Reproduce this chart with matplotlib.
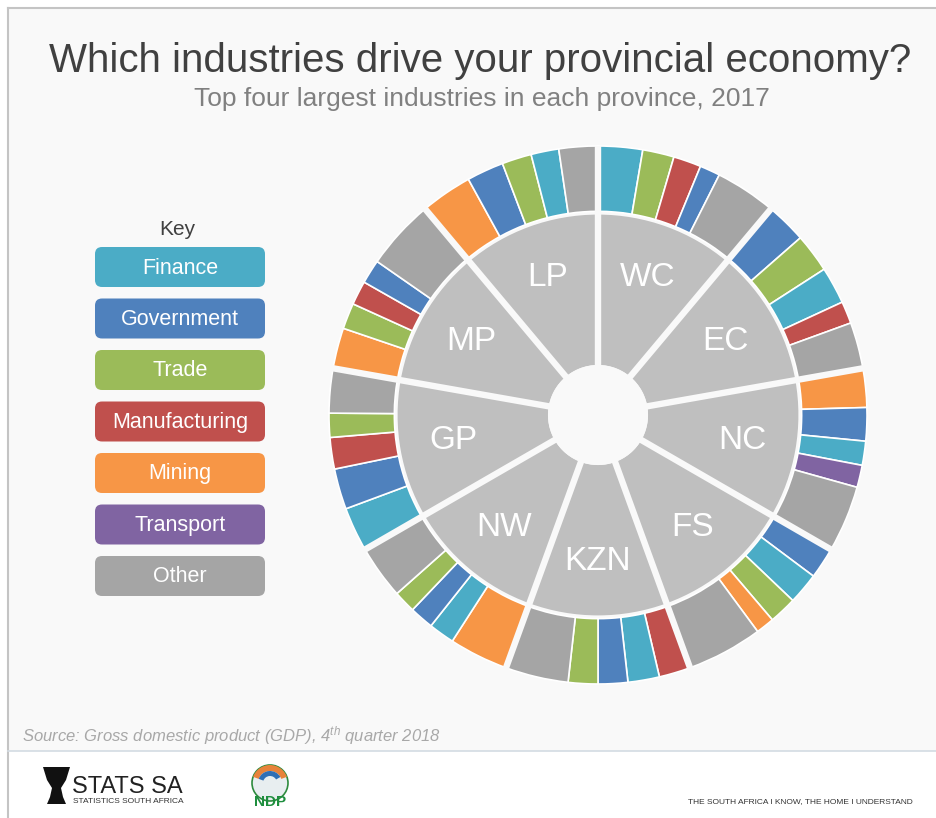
import numpy as np
import matplotlib
matplotlib.use("Agg")
import matplotlib.pyplot as plt
from matplotlib.patches import Rectangle, FancyBboxPatch, Polygon, Wedge, Circle

plt.rcParams["font.family"] = ["Liberation Sans", "DejaVu Sans"]
plt.rcParams["mathtext.fontset"] = "custom"
plt.rcParams["mathtext.it"] = "Liberation Sans:italic"
plt.rcParams["mathtext.rm"] = "Liberation Sans"

# ---- data (share of provincial GDP) ----
provinces = ["WC", "EC", "NC", "FS", "KZN", "NW", "GP", "MP", "LP"]

industries = ["Finance", "Government", "Trade", "Manufacturing", "Mining", "Transport", "Other"]
industry_colors = ["#4BACC6", "#4F81BD", "#9BBB59", "#C0504D", "#F79646", "#8064A2", "#A5A5A5"]

# clockwise order inside each province, "Other" last
wc_inds = ["Finance", "Trade", "Manufacturing", "Government", "Other"]
wc_vals = [24, 17, 15, 11, 33]
ec_inds = ["Government", "Trade", "Finance", "Manufacturing", "Other"]
ec_vals = [22, 21, 20, 12, 25]
nc_inds = ["Mining", "Government", "Finance", "Transport", "Other"]
nc_vals = [21, 18, 13, 12, 36]
fs_inds = ["Government", "Finance", "Trade", "Mining", "Other"]
fs_vals = [17, 17, 15, 10, 41]
kzn_inds = ["Manufacturing", "Finance", "Government", "Trade", "Other"]
kzn_vals = [17, 17, 16, 16, 34]
nw_inds = ["Mining", "Finance", "Government", "Trade", "Other"]
nw_vals = [32, 14, 13, 12, 29]
gp_inds = ["Finance", "Government", "Manufacturing", "Trade", "Other"]
gp_vals = [24, 22, 17, 13, 24]
mp_inds = ["Mining", "Trade", "Manufacturing", "Government", "Other"]
mp_vals = [22, 14, 13, 13, 38]
lp_inds = ["Mining", "Government", "Trade", "Finance", "Other"]
lp_vals = [28, 20, 16, 15, 21]

prov_inds = [wc_inds, ec_inds, nc_inds, fs_inds, kzn_inds, nw_inds, gp_inds, mp_inds, lp_inds]
prov_vals = [wc_vals, ec_vals, nc_vals, fs_vals, kzn_vals, nw_vals, gp_vals, mp_vals, lp_vals]

W, H = 936, 818
BG = "#F9F9F9"
color_of = dict(zip(industries, industry_colors))

fig = plt.figure(figsize=(W / 100, H / 100), dpi=100, facecolor="white")

# ---- background / layout layer in pixel units ----
bg = fig.add_axes([0, 0, 1, 1], zorder=0)
bg.set_xlim(0, W)
bg.set_ylim(H, 0)
bg.axis("off")
bg.add_patch(Rectangle((8, 8), W, 743, facecolor=BG, edgecolor="none"))
bg.plot([8, W], [8, 8], color="#C4C4C4", lw=1.5)
bg.plot([8, 8], [8, H], color="#C4C4C4", lw=1.5)
bg.plot([8, W], [751, 751], color="#D3DBE3", lw=1.2)

bg.text(480, 72, "Which industries drive your provincial economy?", fontsize=29,
        color="#404040", ha="center", va="baseline")
bg.text(482, 106, "Top four largest industries in each province, 2017", fontsize=19,
        color="#808080", ha="center", va="baseline")

# key
bg.text(177, 235, "Key", fontsize=15, color="#404040", ha="center", va="baseline")
for i, (name, col) in enumerate(zip(industries, industry_colors)):
    y0 = 247 + i * 51.5
    bg.add_patch(FancyBboxPatch((95, y0), 170, 40, boxstyle="round,pad=0,rounding_size=7",
                                facecolor=col, edgecolor="none"))
    bg.text(180, y0 + 21, name, fontsize=15.5, color="white", ha="center", va="center")

# source + footer
bg.text(22, 741, "Source: Gross domestic product (GDP), 4$^{th}$ quarter 2018", fontsize=12,
        style="italic", color="#A8A8A8", ha="left", va="baseline")
bg.add_patch(Polygon([[43, 767], [70, 767], [66, 780], [61, 788], [63, 797], [66, 804],
                      [47, 804], [50, 797], [52, 788], [47, 780]], closed=True,
                     facecolor="#111111", edgecolor="none"))
bg.text(72, 793, "STATS SA", fontsize=17, color="#222222", ha="left", va="baseline")
bg.text(73, 803, "STATISTICS SOUTH AFRICA", fontsize=6, color="#333333", ha="left", va="baseline")
bg.add_patch(Circle((270, 783), 18, facecolor="#E8EEF0", edgecolor="#2E8B3E", lw=1.2))
bg.add_patch(Wedge((270, 783), 18, 200, 340, width=6, facecolor="#E8833A", edgecolor="none"))
bg.add_patch(Wedge((270, 783), 12, 200, 330, width=5, facecolor="#2F6FB5", edgecolor="none"))
bg.text(270, 806, "NDP", fontsize=11, fontweight="bold", color="#1E8E3E", ha="center", va="baseline")
bg.text(913, 803, "THE SOUTH AFRICA I KNOW, THE HOME I UNDERSTAND", fontsize=6,
        color="#333333", ha="right", va="baseline")

# ---- the wheel ----
cx, cy, R = 598, 415, 269
ax = fig.add_axes([(cx - R) / W, (H - cy - R) / H, 2 * R / W, 2 * R / H], zorder=1)
ax.patch.set_visible(False)

gray_r = 0.745
hole_r = 0.186
ax.pie([1] * len(provinces), radius=gray_r, colors=["#BFBFBF"], startangle=90,
       counterclock=False, wedgeprops=dict(width=gray_r - hole_r, edgecolor="none"))

outer_vals, outer_cols = [], []
for inds, vals in zip(prov_inds, prov_vals):
    tot = float(sum(vals))
    for ind, v in zip(inds, vals):
        outer_vals.append(v / tot)
        outer_cols.append(color_of[ind])
ax.pie(outer_vals, radius=1.0, colors=outer_cols, startangle=90, counterclock=False,
       wedgeprops=dict(width=1.0 - 0.757, edgecolor="white", linewidth=1.2))

# province separators and labels
n = len(provinces)
for k, name in enumerate(provinces):
    a = np.deg2rad(90 - 360.0 * k / n)
    ax.plot([0, 1.02 * np.cos(a)], [0, 1.02 * np.sin(a)], color=BG, lw=4.6,
            solid_capstyle="butt", zorder=5)
    m = np.deg2rad(90 - 360.0 * (k + 0.5) / n)
    ax.text(0.545 * np.cos(m), 0.545 * np.sin(m), name, fontsize=24, color="white",
            ha="center", va="center", zorder=6)
ax.add_patch(Circle((0, 0), hole_r, facecolor=BG, edgecolor="none", zorder=7))

ax.set_xlim(-1, 1)
ax.set_ylim(-1, 1)
ax.set_aspect("equal")
ax.axis("off")

fig.savefig("out.png", dpi=100, facecolor=fig.get_facecolor())
